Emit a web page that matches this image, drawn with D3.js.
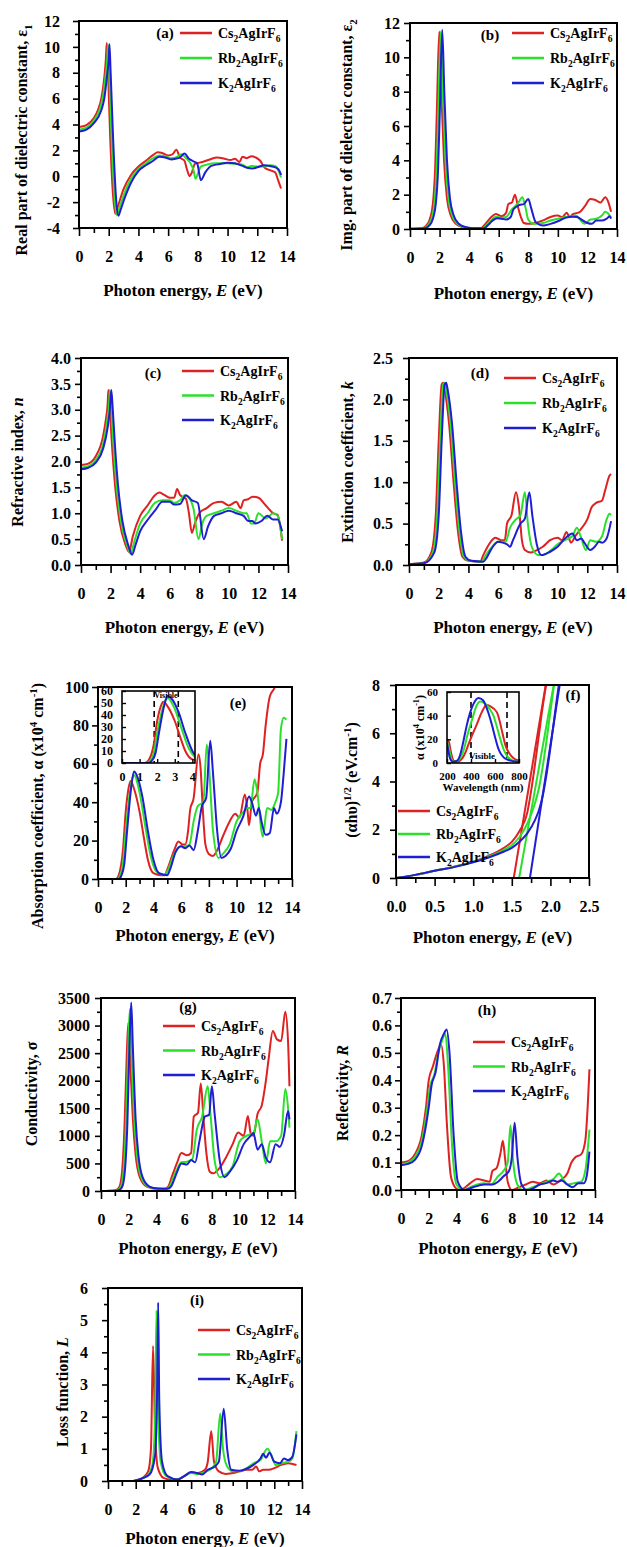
<!DOCTYPE html>
<html>
<head>
<meta charset="utf-8">
<script src="https://cdn.jsdelivr.net/npm/d3@7"></script>
<style>
  body { margin: 0; background: #fff; }
  svg { display: block; font-family: "Liberation Serif", "Times New Roman", serif; font-weight: bold; }
</style>
</head>
<body>
<svg id="fig" width="627" height="1547"></svg>
<script>
// series names and colours
const compounds = [
  [["Cs"], ["2", "sub"], ["AgIrF"], ["6", "sub"]],
  [["Rb"], ["2", "sub"], ["AgIrF"], ["6", "sub"]],
  [["K"], ["2", "sub"], ["AgIrF"], ["6", "sub"]]
];
const colors = ["#de2121", "#2be02b", "#1e1ed2"];

// tick values
const energyTicks = [0, 2, 4, 6, 8, 10, 12, 14];
const energyMinor = [1, 3, 5, 7, 9, 11, 13];

// (a) real part of dielectric constant [E, eps1]
const epsReCs = [[0,3.8],[0.5,3.95],[1.0,4.5],[1.3,5.2],[1.5,6.0],[1.7,7.6],[1.8,8.9],[1.87,10.3],[1.95,8.2],[2.1,3.0],[2.3,-1.6],[2.45,-2.9],[2.6,-2.4],[3.0,-1.0],[3.5,0.1],[4.0,0.75],[4.5,1.2],[5.0,1.65],[5.3,1.85],[5.6,1.8],[6.0,1.6],[6.3,1.7],[6.55,2.05],[6.8,1.45],[7.1,1.2],[7.25,0.6],[7.45,0.0],[7.6,0.3],[7.8,0.95],[8.3,1.1],[8.8,1.3],[9.3,1.45],[9.8,1.35],[10.2,1.25],[10.5,1.35],[10.8,1.1],[11.0,1.5],[11.3,1.4],[11.6,1.55],[11.9,1.45],[12.2,1.2],[12.5,0.65],[12.9,0.45],[13.2,0.3],[13.4,-0.3],[13.6,-0.95]];
const epsReRb = [[0,3.6],[0.5,3.75],[1.0,4.3],[1.4,5.2],[1.6,6.1],[1.8,7.9],[1.9,9.0],[1.95,10.2],[2.03,8.0],[2.2,2.8],[2.4,-1.8],[2.55,-3.0],[2.7,-2.5],[3.0,-1.5],[3.5,-0.2],[4.0,0.55],[4.5,1.0],[5.0,1.4],[5.4,1.6],[5.8,1.55],[6.2,1.4],[6.6,1.5],[6.9,1.7],[7.2,1.4],[7.5,1.0],[7.7,0.5],[7.85,-0.2],[8.0,0.2],[8.2,0.75],[8.6,0.9],[9.2,1.0],[10.0,1.0],[10.6,0.95],[11.0,0.9],[11.3,0.7],[11.6,0.8],[12.0,0.75],[12.5,0.75],[12.9,0.85],[13.2,0.8],[13.4,0.5],[13.6,-0.1]];
const epsReK = [[0,3.45],[0.5,3.6],[1.0,4.1],[1.5,5.1],[1.7,6.0],[1.9,7.9],[2.0,9.0],[2.05,10.2],[2.13,8.0],[2.3,2.8],[2.5,-1.8],[2.65,-3.05],[2.8,-2.6],[3.1,-1.6],[3.5,-0.5],[4.0,0.4],[4.5,0.85],[5.0,1.2],[5.4,1.5],[5.8,1.45],[6.2,1.3],[6.5,1.35],[6.8,1.45],[7.1,1.75],[7.4,1.35],[7.7,1.15],[7.95,1.0],[8.2,-0.3],[8.5,0.3],[8.9,0.8],[9.5,0.95],[10.0,1.05],[10.5,1.0],[11.0,0.8],[11.3,0.65],[11.7,0.6],[12.0,0.7],[12.5,0.85],[12.9,0.78],[13.3,0.65],[13.5,0.4],[13.6,0.1]];

// (b) imaginary part of dielectric constant [E, eps2]
const epsImCs = [[0,0.02],[0.8,0.05],[1.1,0.2],[1.35,0.6],[1.55,1.5],[1.7,3.5],[1.82,7.0],[1.98,11.5],[2.12,8.0],[2.3,4.0],[2.5,1.8],[2.75,0.8],[3.1,0.3],[3.6,0.1],[4.0,0.05],[4.8,0.05],[5.1,0.3],[5.5,0.7],[5.8,0.88],[6.2,0.75],[6.5,0.95],[6.65,1.45],[6.9,1.55],[7.1,2.0],[7.3,1.3],[7.5,0.7],[7.7,0.35],[8.0,0.3],[8.5,0.35],[9.0,0.5],[9.5,0.7],[10.0,0.78],[10.3,0.7],[10.6,0.95],[10.8,0.7],[11.0,0.85],[11.5,1.0],[11.8,1.3],[12.2,1.75],[12.5,1.7],[12.9,1.55],[13.2,1.85],[13.4,1.6],[13.6,1.0]];
const epsImRb = [[0,0.02],[0.9,0.05],[1.2,0.2],[1.45,0.6],[1.65,1.5],[1.8,3.5],[1.92,7.0],[2.08,11.5],[2.22,8.0],[2.4,4.0],[2.6,1.8],[2.85,0.8],[3.2,0.3],[3.7,0.1],[4.1,0.05],[4.9,0.05],[5.2,0.25],[5.5,0.5],[5.8,0.72],[6.2,0.65],[6.5,0.7],[6.9,1.15],[7.3,1.5],[7.6,1.85],[7.8,1.3],[8.0,0.55],[8.4,0.3],[9.0,0.35],[9.5,0.5],[10.0,0.6],[10.5,0.7],[11.0,0.75],[11.2,0.8],[11.5,0.55],[11.8,0.3],[12.2,0.55],[12.6,0.6],[13.0,0.8],[13.2,1.0],[13.4,0.9],[13.6,0.65]];
const epsImK = [[0,0.02],[1.0,0.05],[1.3,0.2],[1.55,0.6],[1.75,1.5],[1.9,3.5],[2.02,7.0],[2.18,11.6],[2.32,8.0],[2.5,4.0],[2.7,1.8],[2.95,0.8],[3.3,0.3],[3.8,0.1],[4.2,0.05],[5.0,0.05],[5.3,0.25],[5.6,0.5],[5.9,0.62],[6.2,0.6],[6.5,0.55],[6.8,0.68],[7.0,1.15],[7.4,1.4],[7.7,1.45],[8.0,1.75],[8.2,1.2],[8.5,0.4],[9.0,0.2],[9.5,0.3],[10.0,0.45],[10.5,0.65],[11.0,0.72],[11.3,0.7],[11.6,0.55],[12.0,0.35],[12.3,0.3],[12.6,0.5],[13.0,0.5],[13.3,0.6],[13.5,0.75],[13.6,0.6]];

// (c) refractive index [E, n]
const nCs = [[0,1.93],[0.5,1.96],[1.0,2.1],[1.5,2.5],[1.7,2.85],[1.8,3.1],[1.85,3.38],[1.95,3.0],[2.1,2.3],[2.3,1.55],[2.6,0.85],[3.0,0.4],[3.25,0.25],[3.5,0.55],[4.0,0.95],[4.5,1.15],[5.0,1.35],[5.3,1.4],[5.6,1.36],[6.0,1.3],[6.3,1.3],[6.5,1.47],[6.7,1.35],[7.1,1.28],[7.3,1.0],[7.5,0.62],[7.7,0.8],[8.0,1.0],[8.5,1.1],[9.0,1.2],[9.5,1.22],[10.0,1.15],[10.5,1.22],[10.8,1.1],[11.0,1.25],[11.3,1.27],[11.6,1.32],[12.0,1.3],[12.5,1.15],[13.0,1.0],[13.3,0.97],[13.6,0.47]];
const nRb = [[0,1.88],[0.5,1.91],[1.0,2.03],[1.5,2.35],[1.8,2.85],[1.9,3.1],[1.95,3.38],[2.05,3.0],[2.2,2.3],[2.4,1.55],[2.7,0.85],[3.1,0.4],[3.35,0.22],[3.6,0.45],[4.0,0.8],[4.5,1.0],[5.0,1.2],[5.5,1.25],[6.0,1.25],[6.3,1.2],[6.7,1.25],[7.0,1.35],[7.3,1.3],[7.6,1.1],[7.95,0.5],[8.2,0.8],[8.5,0.95],[9.0,1.0],[9.5,1.05],[10.0,1.1],[10.5,1.05],[11.0,1.0],[11.2,1.0],[11.5,0.8],[11.7,0.8],[12.0,1.0],[12.5,0.9],[13.0,1.0],[13.3,0.95],[13.6,0.5]];
const nK = [[0,1.85],[0.5,1.88],[1.0,1.98],[1.5,2.25],[1.8,2.65],[1.95,3.0],[2.05,3.38],[2.15,3.0],[2.3,2.3],[2.5,1.55],[2.8,0.85],[3.2,0.38],[3.45,0.2],[3.7,0.4],[4.0,0.65],[4.5,0.87],[5.0,1.05],[5.5,1.22],[6.0,1.22],[6.3,1.17],[6.7,1.18],[7.1,1.35],[7.5,1.25],[7.9,1.2],[8.3,0.5],[8.6,0.75],[9.0,0.95],[9.5,1.0],[10.0,1.05],[10.5,1.0],[11.0,0.95],[11.3,0.85],[11.6,0.85],[11.8,0.8],[12.2,0.85],[12.6,0.95],[13.0,0.88],[13.3,0.88],[13.6,0.65]];

// (d) extinction coefficient [E, k]
const kCs = [[0,0.01],[1.0,0.03],[1.5,0.15],[1.8,0.6],[2.0,1.5],[2.2,2.18],[2.3,2.2],[2.4,2.12],[2.7,1.7],[3.0,1.0],[3.3,0.4],[3.6,0.1],[4.0,0.05],[4.8,0.04],[5.0,0.12],[5.5,0.28],[5.8,0.33],[6.2,0.3],[6.45,0.3],[6.6,0.5],[6.9,0.6],[7.2,0.88],[7.4,0.7],[7.6,0.3],[7.8,0.18],[8.2,0.15],[8.5,0.17],[9.0,0.22],[9.5,0.3],[10.0,0.33],[10.3,0.3],[10.6,0.4],[10.9,0.27],[11.2,0.35],[11.5,0.42],[12.0,0.55],[12.3,0.7],[12.6,0.75],[13.0,0.78],[13.2,0.9],[13.5,1.08],[13.6,1.1]];
const kRb = [[0,0.01],[1.0,0.02],[1.6,0.15],[1.9,0.6],[2.1,1.5],[2.3,2.18],[2.4,2.2],[2.5,2.12],[2.8,1.7],[3.1,1.0],[3.4,0.4],[3.7,0.1],[4.1,0.05],[4.9,0.04],[5.1,0.1],[5.5,0.2],[6.0,0.28],[6.5,0.28],[6.8,0.45],[7.2,0.55],[7.5,0.6],[7.8,0.88],[8.0,0.5],[8.3,0.2],[8.7,0.12],[9.0,0.12],[9.5,0.17],[10.0,0.25],[10.5,0.3],[11.0,0.35],[11.3,0.45],[11.6,0.32],[11.9,0.18],[12.2,0.3],[12.6,0.28],[13.0,0.35],[13.3,0.55],[13.5,0.62],[13.6,0.6]];
const kK = [[0,0.01],[1.0,0.02],[1.7,0.15],[2.0,0.6],[2.2,1.5],[2.4,2.18],[2.5,2.2],[2.6,2.12],[2.9,1.7],[3.2,1.0],[3.5,0.4],[3.8,0.1],[4.2,0.05],[5.0,0.04],[5.2,0.08],[5.5,0.18],[6.0,0.28],[6.3,0.27],[6.6,0.25],[6.8,0.22],[7.0,0.3],[7.5,0.5],[7.8,0.56],[8.1,0.88],[8.3,0.6],[8.6,0.25],[8.9,0.12],[9.5,0.16],[10.0,0.22],[10.5,0.32],[11.0,0.38],[11.3,0.3],[11.6,0.32],[11.8,0.27],[12.2,0.18],[12.5,0.22],[12.8,0.28],[13.0,0.27],[13.3,0.32],[13.6,0.53]];

// (e) absorption coefficient [E, alpha x10^4]
const alphaCs = [[0,0],[1.3,0],[1.5,2],[1.8,15],[2.0,35],[2.2,47],[2.35,51],[2.6,47],[3.0,35],[3.3,22],[3.6,10],[4.0,3],[4.5,2],[4.8,2],[5.0,5],[5.5,15],[5.8,19.5],[6.1,18],[6.3,18],[6.5,25],[6.65,36],[6.9,42],[7.25,65],[7.4,58],[7.55,38],[7.75,18],[8.0,13],[8.3,12],[8.6,15],[9.0,22],[9.5,30],[9.9,34],[10.2,32],[10.6,44],[10.8,35],[10.9,28],[11.1,40],[11.5,45],[11.7,60],[11.9,65],[12.1,80],[12.4,95],[12.7,99],[13.0,104],[13.6,110]];
const alphaRb = [[0,0],[1.4,0],[1.6,2],[1.8,8],[2.0,25],[2.3,45],[2.5,53],[2.6,54],[3.0,45],[3.4,28],[3.8,12],[4.2,4],[4.8,2],[5.0,4],[5.5,13],[6.0,17],[6.3,17],[6.6,18],[6.9,30],[7.2,38],[7.6,40],[7.85,70],[8.0,60],[8.3,25],[8.7,11],[9.0,13],[9.5,18],[10.0,30],[10.5,35],[10.8,37],[11.0,37],[11.3,52],[11.5,45],[11.8,25],[11.9,22],[12.2,37],[12.5,36],[12.8,40],[13.0,45],[13.2,78],[13.4,84],[13.6,83]];
const alphaK = [[0,0],[1.5,0],[1.7,2],[1.9,8],[2.1,25],[2.4,48],[2.6,56],[2.8,54],[3.2,43],[3.6,25],[4.0,10],[4.4,3],[5.0,2],[5.2,5],[5.6,14],[6.0,17],[6.3,16],[6.6,17.5],[6.9,15],[7.2,25],[7.5,38],[7.8,42],[8.1,72],[8.3,55],[8.6,25],[8.9,11],[9.2,12],[9.6,16],[10.0,25],[10.5,33],[10.9,43],[11.1,40],[11.4,33],[11.6,37],[11.8,30],[12.1,23],[12.4,24],[12.7,37],[12.9,34],[13.2,40],[13.4,55],[13.6,73]];
const visibleEnergy = [1.83, 3.2];

// (f) Tauc plot [E, (alpha h nu)^1/2] and linear fits
const taucCs = [[0,0],[0.25,0.13],[0.5,0.3],[0.75,0.47],[1.0,0.68],[1.2,0.92],[1.4,1.25],[1.5,1.5],[1.6,1.95],[1.7,2.7],[1.75,3.6],[1.8,4.7],[1.85,5.9],[1.9,7.1],[1.96,8.3]];
const taucRb = [[0,0],[0.25,0.13],[0.5,0.3],[0.75,0.46],[1.0,0.66],[1.2,0.88],[1.4,1.17],[1.5,1.36],[1.6,1.7],[1.7,2.25],[1.8,3.1],[1.85,3.7],[1.9,4.6],[1.95,5.7],[2.0,6.9],[2.06,8.3]];
const taucK = [[0,0],[0.25,0.13],[0.5,0.3],[0.75,0.45],[1.0,0.65],[1.2,0.85],[1.4,1.1],[1.5,1.25],[1.6,1.5],[1.7,1.85],[1.8,2.4],[1.85,2.8],[1.9,3.4],[1.95,4.3],[2.0,5.4],[2.05,6.6],[2.1,7.8],[2.13,8.4]];
const fitCs = [[1.525,0],[1.96,8.4]];
const fitRb = [[1.595,0],[2.06,8.3]];
const fitK = [[1.735,0],[2.13,8.2]];
// inset: alpha vs wavelength [nm, alpha x10^4]
const visCs = [[200,20],[215,18],[235,8],[255,2],[290,1],[320,3],[350,8],[380,16],[420,26],[450,33],[490,43],[530,49],[560,48],[615,43],[640,35],[656,28],[690,14],[720,8],[755,4],[800,2]];
const visRb = [[200,18],[215,13],[235,4],[260,1],[290,2],[320,6],[345,13],[366,22],[407,36],[449,49],[476,52],[520,50],[560,45],[587,40],[620,29],[642,21],[670,12],[700,6],[750,2],[800,1]];
const visK = [[200,17],[210,11],[225,4],[250,1],[285,2],[310,7],[338,19],[365,32],[394,43],[421,50],[463,55],[500,53],[546,42],[575,32],[600,22],[625,13],[642,9],[670,5],[700,3],[750,1.5],[800,1]];
const visibleNm = [400, 700];

// (g) optical conductivity [E, sigma]
const sigCs = [[0,0],[1.0,10],[1.3,60],[1.5,300],[1.7,1200],[1.85,2400],[1.97,3050],[2.1,2400],[2.3,1300],[2.5,650],[2.8,250],[3.3,80],[4.0,40],[4.6,40],[4.85,80],[5.1,250],[5.5,520],[5.8,690],[6.2,650],[6.5,690],[6.7,1350],[7.0,1420],[7.2,1950],[7.4,1300],[7.6,700],[7.85,350],[8.1,320],[8.5,400],[9.0,600],[9.5,850],[9.9,1060],[10.3,1000],[10.6,1360],[10.8,1050],[11.0,1000],[11.3,1400],[11.6,1550],[11.9,2000],[12.1,2400],[12.4,2900],[12.7,2750],[13.0,2720],[13.3,3250],[13.5,2700],[13.6,1900]];
const sigRb = [[0,0],[1.1,10],[1.4,60],[1.6,300],[1.8,1200],[1.95,2500],[2.08,3300],[2.2,2500],[2.4,1300],[2.6,650],[2.9,250],[3.4,80],[4.0,45],[4.7,40],[4.95,80],[5.2,230],[5.5,400],[5.8,520],[6.2,530],[6.6,580],[6.9,1100],[7.3,1350],[7.7,1900],[7.9,1400],[8.2,550],[8.6,250],[9.0,300],[9.5,450],[10.0,900],[10.5,1000],[11.0,1050],[11.3,1300],[11.6,900],[11.9,500],[12.2,900],[12.6,900],[13.0,1000],[13.3,1850],[13.5,1500],[13.6,1150]];
const sigK = [[0,0],[1.2,10],[1.5,60],[1.7,300],[1.9,1200],[2.05,2600],[2.18,3420],[2.3,2600],[2.5,1300],[2.7,650],[3.0,250],[3.5,80],[4.1,45],[4.8,40],[5.05,80],[5.3,220],[5.5,350],[5.8,500],[6.2,480],[6.5,560],[6.8,520],[7.1,900],[7.5,1350],[7.8,1380],[8.0,1900],[8.2,1400],[8.6,500],[8.9,250],[9.3,350],[9.8,550],[10.3,850],[10.8,1000],[11.0,1050],[11.3,750],[11.6,850],[11.9,600],[12.2,520],[12.6,850],[12.9,800],[13.2,1000],[13.5,1450],[13.6,1300]];

// (h) reflectivity [E, R]
const rCs = [[0,0.1],[0.5,0.105],[1.0,0.13],[1.5,0.2],[1.8,0.3],[2.0,0.4],[2.3,0.45],[2.6,0.5],[2.9,0.53],[3.1,0.45],[3.3,0.25],[3.6,0.05],[3.9,0.01],[4.2,0.0],[4.5,0.005],[5.0,0.025],[5.5,0.04],[6.0,0.035],[6.4,0.03],[6.6,0.07],[6.9,0.08],[7.2,0.14],[7.35,0.18],[7.5,0.12],[7.7,0.03],[8.0,0.0],[8.5,0.01],[9.0,0.02],[9.5,0.03],[10.0,0.025],[10.5,0.035],[11.0,0.02],[11.5,0.035],[12.0,0.06],[12.3,0.1],[12.6,0.12],[13.0,0.13],[13.3,0.18],[13.6,0.44]];
const rRb = [[0,0.095],[0.5,0.1],[1.0,0.12],[1.5,0.18],[1.9,0.3],[2.1,0.38],[2.4,0.42],[2.7,0.5],[3.0,0.55],[3.2,0.57],[3.4,0.45],[3.7,0.15],[4.0,0.02],[4.5,0.0],[5.0,0.01],[5.5,0.02],[6.0,0.025],[6.5,0.02],[7.0,0.05],[7.4,0.07],[7.7,0.1],[7.9,0.235],[8.1,0.1],[8.4,0.02],[8.8,0.0],[9.5,0.01],[10.0,0.02],[10.5,0.03],[11.0,0.04],[11.4,0.06],[11.7,0.04],[12.0,0.02],[12.5,0.025],[13.0,0.03],[13.3,0.07],[13.6,0.22]];
const rK = [[0,0.09],[0.5,0.095],[1.0,0.11],[1.5,0.16],[2.0,0.3],[2.2,0.38],[2.5,0.43],[2.8,0.53],[3.1,0.57],[3.3,0.585],[3.5,0.5],[3.8,0.2],[4.1,0.03],[4.6,0.0],[5.2,0.01],[6.0,0.02],[6.6,0.02],[7.0,0.03],[7.4,0.05],[7.8,0.07],[8.0,0.12],[8.2,0.245],[8.4,0.12],[8.7,0.02],[9.1,0.0],[9.5,0.005],[10.0,0.02],[10.5,0.025],[11.0,0.035],[11.3,0.03],[11.6,0.035],[12.0,0.02],[12.4,0.01],[12.8,0.025],[13.2,0.025],[13.4,0.05],[13.6,0.14]];

// (i) energy loss function [E, L]
const lossCs = [[0,0],[1.8,0],[2.0,0.02],[2.5,0.1],[2.9,0.3],[3.1,1.0],[3.25,4.2],[3.4,1.5],[3.6,0.4],[4.0,0.1],[4.5,0.05],[5.0,0.05],[5.5,0.15],[6.0,0.27],[6.5,0.25],[7.0,0.35],[7.2,0.6],[7.45,1.55],[7.65,0.6],[8.0,0.3],[8.5,0.22],[9.0,0.25],[9.5,0.3],[10.0,0.35],[10.4,0.35],[10.7,0.45],[10.9,0.3],[11.2,0.35],[11.6,0.35],[12.0,0.4],[12.5,0.5],[13.0,0.55],[13.6,0.5]];
const lossRb = [[0,0],[1.8,0],[2.0,0.02],[2.8,0.15],[3.2,0.5],[3.4,2.0],[3.5,5.3],[3.6,2.5],[3.8,0.6],[4.2,0.15],[5.0,0.05],[5.5,0.15],[6.0,0.25],[6.5,0.22],[7.0,0.28],[7.5,0.4],[7.8,0.6],[8.1,2.1],[8.3,1.0],[8.6,0.45],[9.0,0.3],[9.5,0.3],[10.0,0.4],[10.5,0.55],[11.0,0.65],[11.5,1.0],[11.8,0.8],[12.1,0.5],[12.5,0.55],[13.0,0.6],[13.3,0.7],[13.6,1.55]];
const lossK = [[0,0],[1.8,0],[2.0,0.02],[3.0,0.2],[3.4,0.8],[3.55,3.0],[3.62,5.55],[3.7,2.5],[3.9,0.6],[4.3,0.15],[5.0,0.05],[5.5,0.15],[6.0,0.28],[6.4,0.25],[6.8,0.2],[7.2,0.35],[7.7,0.45],[8.0,0.6],[8.35,2.25],[8.6,1.0],[8.9,0.35],[9.5,0.32],[10.0,0.38],[10.5,0.5],[11.0,0.7],[11.2,0.85],[11.4,0.72],[11.65,0.88],[12.0,0.6],[12.4,0.55],[12.7,0.7],[13.0,0.65],[13.3,0.75],[13.6,1.45]];

const svg = d3.select("#fig");
const fmt1 = d3.format(".1f");
const fmtInt = d => String(d);
const energyTitle = [["Photon energy, "], ["E", "it"], [" (eV)"]];

// writes text with sub/superscript/italic pieces as tspans
function rich(sel, parts, size) {
  let off = 0;
  parts.forEach(([txt, kind]) => {
    const target = kind === "sub" ? size * 0.3 : kind === "sup" ? -size * 0.38 : 0;
    const t = sel.append("tspan").attr("dy", target - off).text(txt);
    off = target;
    if (kind === "sub" || kind === "sup") t.attr("font-size", size * 0.68);
    if (kind === "it") t.attr("font-style", "italic");
  });
}

function drawPanel(p) {
  const [L, T, R, B] = p.box;
  const x = d3.scaleLinear().domain(p.xDomain).range([L, R]);
  const y = d3.scaleLinear().domain(p.yDomain).range([B, T]);
  const g = svg.append("g");

  g.append("clipPath").attr("id", "clip-" + p.id)
    .append("rect").attr("x", L).attr("y", T).attr("width", R - L).attr("height", B - T);

  const line = d3.line().x(d => x(d[0])).y(d => y(d[1])).curve(d3.curveMonotoneX);
  const curves = g.append("g").attr("clip-path", `url(#clip-${p.id})`).attr("fill", "none");
  (p.extra || []).forEach((s, i) =>
    curves.append("path").attr("d", line(s)).attr("stroke", colors[i]).attr("stroke-width", 2));
  p.series.forEach((s, i) =>
    curves.append("path").attr("d", line(s)).attr("stroke", colors[i]).attr("stroke-width", 2));

  // axes: outward ticks, bold serif labels
  const fs = 16;
  const xAx = g.append("g").attr("transform", `translate(0,${B})`)
    .call(d3.axisBottom(x).tickValues(p.xTicks).tickFormat(p.xFmt || fmtInt)
      .tickSize(8).tickSizeOuter(0).tickPadding(34 - 8 - 0.71 * fs));
  g.append("g").attr("transform", `translate(0,${B})`)
    .call(d3.axisBottom(x).tickValues(p.xMinor).tickFormat("").tickSize(5).tickSizeOuter(0));
  const yAx = g.append("g").attr("transform", `translate(${L},0)`)
    .call(d3.axisLeft(y).tickValues(p.yTicks).tickFormat(p.yFmt || fmtInt)
      .tickSize(6).tickSizeOuter(0).tickPadding(p.yGap - 6));
  g.append("g").attr("transform", `translate(${L},0)`)
    .call(d3.axisLeft(y).tickValues(p.yMinor).tickFormat("").tickSize(4).tickSizeOuter(0));
  g.selectAll(".domain").remove();
  g.selectAll(".tick line").attr("stroke", "#000").attr("stroke-width", 1.6);
  [xAx, yAx].forEach(a => a.selectAll("text")
    .attr("font-family", null).attr("font-size", fs).attr("fill", "#000"));
  xAx.attr("font-family", null).attr("font-size", null);
  yAx.attr("font-family", null).attr("font-size", null);

  g.append("rect").attr("x", L).attr("y", T).attr("width", R - L).attr("height", B - T)
    .attr("fill", "none").attr("stroke", "#000").attr("stroke-width", 2);

  // axis titles
  const xt = g.append("text").attr("x", (L + R) / 2).attr("y", p.xTitleY + 6)
    .attr("text-anchor", "middle").attr("font-size", 17);
  rich(xt, p.xTitle || energyTitle, 17);
  const yt = g.append("text").attr("text-anchor", "middle").attr("font-size", 16)
    .attr("transform", `translate(${p.yTitle.x + 5},${p.yTitle.y}) rotate(-90)`);
  rich(yt, p.yTitle.parts, 16);

  // panel tag
  g.append("text").attr("x", p.tag[0]).attr("y", p.tag[1] + 5)
    .attr("text-anchor", "middle").attr("font-size", 15).text(p.tag[2]);

  // legend
  if (p.legend) {
    const [lx, ly, dy] = p.legend;
    compounds.forEach((c, i) => {
      const yy = ly + i * dy;
      g.append("line").attr("x1", lx).attr("x2", lx + 32).attr("y1", yy).attr("y2", yy)
        .attr("stroke", colors[i]).attr("stroke-width", 2.5);
      const t = g.append("text").attr("x", lx + 38).attr("y", yy + 5).attr("font-size", 14);
      rich(t, c, 14);
    });
  }
  return { x, y, g };
}

function drawInset(p) {
  const [L, T, R, B] = p.box;
  const x = d3.scaleLinear().domain(p.xDomain).range([L, R]);
  const y = d3.scaleLinear().domain(p.yDomain).range([B, T]);
  const g = svg.append("g");
  g.append("rect").attr("x", L).attr("y", T).attr("width", R - L).attr("height", B - T).attr("fill", "#fff");
  g.append("clipPath").attr("id", "clip-" + p.id)
    .append("rect").attr("x", L).attr("y", T).attr("width", R - L).attr("height", B - T);
  const cg = g.append("g").attr("clip-path", `url(#clip-${p.id})`);
  p.marks.forEach(v => cg.append("line").attr("x1", x(v)).attr("x2", x(v)).attr("y1", T).attr("y2", B)
    .attr("stroke", "#000").attr("stroke-width", 1.6).attr("stroke-dasharray", "6,4"));
  const line = d3.line().x(d => x(d[0])).y(d => y(d[1])).curve(d3.curveMonotoneX);
  p.series.forEach((s, i) => cg.append("path").attr("d", line(s)).attr("fill", "none")
    .attr("stroke", colors[i]).attr("stroke-width", 2));

  const fs = p.fs;
  const xa = g.append("g").attr("transform", `translate(0,${B})`)
    .call(d3.axisBottom(x).tickValues(p.xTicks).tickFormat(fmtInt).tickSize(-4).tickSizeOuter(0).tickPadding(9));
  const ya = g.append("g").attr("transform", `translate(${L},0)`)
    .call(d3.axisLeft(y).tickValues(p.yTicks).tickFormat(fmtInt).tickSize(-4).tickSizeOuter(0).tickPadding(p.yGap + 4));
  g.selectAll(".domain").remove();
  g.selectAll(".tick line").attr("stroke", "#000").attr("stroke-width", 1.4);
  [xa, ya].forEach(a => {
    a.attr("font-family", null).attr("font-size", null);
    a.selectAll("text").attr("font-size", fs).attr("fill", "#000");
  });
  g.append("rect").attr("x", L).attr("y", T).attr("width", R - L).attr("height", B - T)
    .attr("fill", "none").attr("stroke", "#000").attr("stroke-width", 1.6);
  g.append("text").attr("x", p.note[0]).attr("y", p.note[1]).attr("text-anchor", "middle")
    .attr("font-size", p.note[2]).text("Visible");
  if (p.xTitle) {
    g.append("text").attr("x", (L + R) / 2).attr("y", p.xTitle[1]).attr("text-anchor", "middle")
      .attr("font-size", 11).text(p.xTitle[0]);
  }
  if (p.yTitle) {
    const t = g.append("text").attr("text-anchor", "middle").attr("font-size", 12)
      .attr("transform", `translate(${p.yTitle.x},${(T + B) / 2}) rotate(-90)`);
    rich(t, p.yTitle.parts, 12);
  }
}

// ---- panels ----
drawPanel({
  id: "a", box: [79, 21, 287, 228], xDomain: [0, 14], yDomain: [-4, 12],
  xTicks: energyTicks, xMinor: energyMinor,
  yTicks: [-4, -2, 0, 2, 4, 6, 8, 10, 12], yMinor: [-3, -1, 1, 3, 5, 7, 9, 11], yGap: 19,
  series: [epsReCs, epsReRb, epsReK], xTitleY: 290,
  yTitle: { x: 22, y: 140, parts: [["Real part of dielectric constant, ε"], ["1", "sub"]] },
  tag: [165, 33, "(a)"], legend: [180, 33, 25]
});

drawPanel({
  id: "b", box: [410, 23, 617, 229], xDomain: [0, 14], yDomain: [0, 12],
  xTicks: energyTicks, xMinor: energyMinor,
  yTicks: [0, 2, 4, 6, 8, 10, 12], yMinor: [1, 3, 5, 7, 9, 11], yGap: 10,
  series: [epsImCs, epsImRb, epsImK], xTitleY: 293,
  yTitle: { x: 347, y: 135, parts: [["Img. part of dielectric constant, ε"], ["2", "sub"]] },
  tag: [490, 35, "(b)"], legend: [512, 33, 25]
});

drawPanel({
  id: "c", box: [81, 358, 288, 565], xDomain: [0, 14], yDomain: [0, 4],
  xTicks: energyTicks, xMinor: energyMinor,
  yTicks: [0, 0.5, 1, 1.5, 2, 2.5, 3, 3.5, 4], yMinor: [0.25, 0.75, 1.25, 1.75, 2.25, 2.75, 3.25, 3.75],
  yFmt: fmt1, yGap: 10,
  series: [nCs, nRb, nK], xTitleY: 627,
  yTitle: { x: 18, y: 462, parts: [["Refractive index, "], ["n", "it"]] },
  tag: [153, 373, "(c)"], legend: [182, 371, 24.5]
});

drawPanel({
  id: "d", box: [409, 358, 617, 565], xDomain: [0, 14], yDomain: [0, 2.5],
  xTicks: energyTicks, xMinor: energyMinor,
  yTicks: [0, 0.5, 1, 1.5, 2, 2.5], yMinor: [0.25, 0.75, 1.25, 1.75, 2.25],
  yFmt: fmt1, yGap: 16,
  series: [kCs, kRb, kK], xTitleY: 627,
  yTitle: { x: 348, y: 462, parts: [["Extinction coefficient, "], ["k", "it"]] },
  tag: [480, 373, "(d)"], legend: [504, 378, 25]
});

drawPanel({
  id: "e", box: [98, 687, 292, 879], xDomain: [0, 14], yDomain: [0, 100],
  xTicks: energyTicks, xMinor: energyMinor,
  yTicks: [0, 20, 40, 60, 80, 100], yMinor: [10, 30, 50, 70, 90], yGap: 9,
  series: [alphaCs, alphaRb, alphaK], xTitleY: 935,
  yTitle: { x: 38, y: 806, parts: [["Absorption coefficient, α (x10"], ["4", "sup"], [" cm"], ["-1", "sup"], [")"]] },
  tag: [238, 703, "(e)"]
});
drawInset({
  id: "e-in", box: [122, 691, 195, 763], xDomain: [0, 4.15], yDomain: [0, 60],
  xTicks: [0, 1, 2, 3, 4], yTicks: [0, 10, 20, 30, 40, 50, 60], yGap: 5, fs: 12,
  marks: visibleEnergy,
  series: [alphaCs, alphaRb, alphaK].map(s => s.filter(d => d[0] <= 4.6)),
  note: [166, 698, 8]
});

drawPanel({
  id: "f", box: [396, 685, 589, 878], xDomain: [0, 2.5], yDomain: [0, 8],
  xTicks: [0, 0.5, 1, 1.5, 2, 2.5], xMinor: [0.25, 0.75, 1.25, 1.75, 2.25], xFmt: fmt1,
  yTicks: [0, 2, 4, 6, 8], yMinor: [1, 3, 5, 7], yGap: 16,
  series: [taucCs, taucRb, taucK], extra: [fitCs, fitRb, fitK], xTitleY: 937,
  yTitle: { x: 352, y: 780, parts: [["(αhυ)"], ["1/2", "sup"], [" (eV.cm"], ["-1", "sup"], [")"]] },
  tag: [573, 695, "(f)"], legend: [398, 811, 23]
});
drawInset({
  id: "f-in", box: [447, 692, 519, 763], xDomain: [200, 800], yDomain: [0, 60],
  xTicks: [200, 400, 600, 800], yTicks: [0, 20, 40, 60], yGap: 5, fs: 11,
  marks: visibleNm, series: [visCs, visRb, visK],
  note: [482, 759, 9],
  xTitle: ["Wavelength (nm)", 791],
  yTitle: { x: 424, parts: [["α (x10"], ["4", "sup"], [" cm"], ["-1", "sup"], [")"]] }
});

drawPanel({
  id: "g", box: [101, 998, 295, 1191], xDomain: [0, 14], yDomain: [0, 3500],
  xTicks: energyTicks, xMinor: energyMinor,
  yTicks: [0, 500, 1000, 1500, 2000, 2500, 3000, 3500], yMinor: [250, 750, 1250, 1750, 2250, 2750, 3250], yGap: 11,
  series: [sigCs, sigRb, sigK], xTitleY: 1248,
  yTitle: { x: 32, y: 1094, parts: [["Conductivity, σ"]] },
  tag: [188, 1007, "(g)"], legend: [163, 1026, 24.5]
});

drawPanel({
  id: "h", box: [401, 998, 595, 1190], xDomain: [0, 14], yDomain: [0, 0.7],
  xTicks: energyTicks, xMinor: energyMinor,
  yTicks: [0, 0.1, 0.2, 0.3, 0.4, 0.5, 0.6, 0.7], yMinor: [0.05, 0.15, 0.25, 0.35, 0.45, 0.55, 0.65],
  yFmt: fmt1, yGap: 9,
  series: [rCs, rRb, rK], xTitleY: 1248,
  yTitle: { x: 343, y: 1093, parts: [["Reflectivity, "], ["R", "it"]] },
  tag: [487, 1010, "(h)"], legend: [473, 1042, 24.5]
});

drawPanel({
  id: "i", box: [108, 1288, 302, 1481], xDomain: [0, 14], yDomain: [0, 6],
  xTicks: energyTicks, xMinor: energyMinor,
  yTicks: [0, 1, 2, 3, 4, 5, 6], yMinor: [0.5, 1.5, 2.5, 3.5, 4.5, 5.5], yGap: 20,
  series: [lossCs, lossRb, lossK], xTitleY: 1538,
  yTitle: { x: 63, y: 1392, parts: [["Loss function, "], ["L", "it"]] },
  tag: [197, 1300, "(i)"], legend: [198, 1330, 24.5]
});
</script>
</body>
</html>
